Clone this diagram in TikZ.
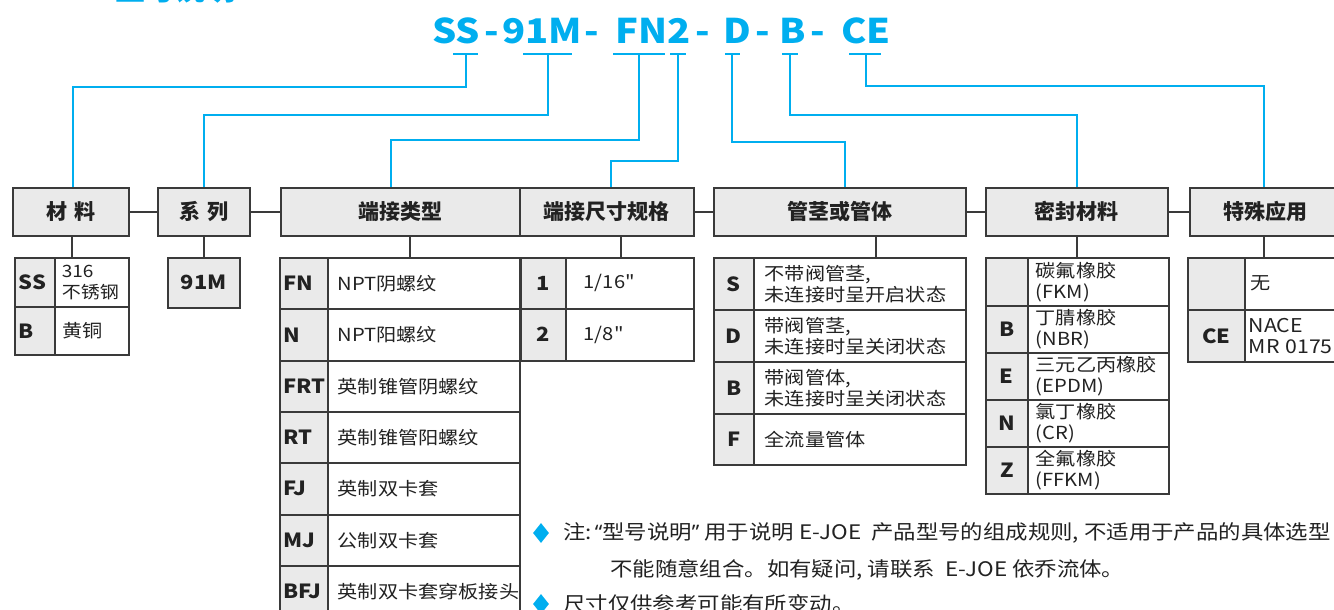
\documentclass[tikz,border=0pt]{standalone}
\usepackage{fontspec}
\usetikzlibrary{shapes.geometric}
\setmainfont{Noto Sans CJK SC}
\newfontfamily\cn[FakeStretch=1.12]{Noto Sans CJK SC}
\newfontfamily\lat[FakeStretch=1.05]{Noto Sans}
\definecolor{ej}{HTML}{00AEEF}
\definecolor{lc}{HTML}{3A3A3A}
\definecolor{hg}{HTML}{EAEAEA}
\definecolor{tcol}{HTML}{222222}
\newcommand\myhfont{\fontsize{21}{21}\selectfont\bfseries}
\newcommand\mycfont{\cn\fontsize{19.5}{20}\selectfont\bfseries}
\newcommand\mytfont{\cn\fontsize{18}{21}\selectfont}
\newcommand\hd[4]{\pgfmathsetmacro\myw{#3-#2}\node[hdr, minimum width=\myw pt] (#1) at (#2,187) {#4};}
\newcommand\ccell[7]{\pgfmathsetmacro\myh{#5-#3}\pgfmathsetmacro\mytw{#4-#2-8}%
  \node[code, anchor=north west, inner xsep=4pt, text width=\mytw pt, align=#6, minimum height=\myh pt] (#1) at (#2,#3) {#7};}
\newcommand\tcell[7]{\pgfmathsetmacro\myh{#5-#3}\pgfmathsetmacro\mytw{#4-#2-2*#6}%
  \node[txt, anchor=north west, inner xsep=#6 pt, text width=\mytw pt, minimum height=\myh pt] (#1) at (#2,#3) {#7};}
\begin{document}
\begin{tikzpicture}[x=1pt,y=-1pt,
  cy/.style={draw=ej, line width=2pt},
  gl/.style={draw=lc, line width=1.5pt},
  hdr/.style={draw=lc, line width=1.5pt, fill=hg, font=\myhfont, text=tcol, inner sep=0pt, minimum height=48pt, anchor=north west},
  code/.style={draw=lc, line width=1.5pt, fill=hg, font=\mycfont, text=tcol, inner ysep=0pt},
  txt/.style={draw=lc, line width=1.5pt, fill=white, font=\mytfont, text=tcol, inner ysep=0pt, align=left},
  ttl/.style={font=\cn\fontsize{34}{34}\selectfont\bfseries, text=ej, anchor=base, inner sep=0pt},
  note/.style={font=\cn\fontsize{20}{20}\selectfont, text=tcol, anchor=west, inner sep=0pt},
  dia/.style={diamond, fill=ej, inner sep=0pt, minimum width=16pt, minimum height=20pt}]
\path[use as bounding box] (0,0) rectangle (1334,610);
\clip (0,0) rectangle (1334,610);

% partial heading at top
\node[font=\cn\fontsize{27}{27}\selectfont\bfseries, text=ej, anchor=base west, inner sep=0pt] (top) at (115,1) {型号说明};

% title
\node[ttl] (tSS) at (456,44) {SS};
\node[ttl] (d1) at (492,44) {-};
\node[ttl] (t91) at (542,44) {91M};
\node[ttl] (d2) at (592,44) {-};
\node[ttl] (tFN) at (653,44) {FN2};
\node[ttl] (d3) at (703,44) {-};
\node[ttl] (tD) at (737,44) {D};
\node[ttl] (d4) at (763,44) {-};
\node[ttl] (tB) at (793,44) {B};
\node[ttl] (d5) at (818,44) {-};
\node[ttl] (tCE) at (866,44) {CE};

% bars
\coordinate (b1l) at (453,54); \coordinate (b1r) at (478,54); \coordinate (s1) at (466,54);
\coordinate (b2l) at (523,54); \coordinate (b2r) at (572,54); \coordinate (s2) at (548,54);
\coordinate (b3l) at (613,54); \coordinate (b3r) at (665,54); \coordinate (s3) at (639,54);
\coordinate (b4l) at (670,54); \coordinate (b4r) at (686,54); \coordinate (s4) at (678,54);
\coordinate (b5l) at (725,54); \coordinate (b5r) at (740,54); \coordinate (s5) at (732,54);
\coordinate (b6l) at (782,54); \coordinate (b6r) at (798,54); \coordinate (s6) at (790,54);
\coordinate (b7l) at (849,54); \coordinate (b7r) at (881,54); \coordinate (s7) at (866,54);
\foreach \i in {1,...,7} {\draw[cy] (b\i l) -- (b\i r);}

% headers
\hd{h1}{12}{128}{材\hspace{7pt}料}
\hd{h2}{157}{249}{系\hspace{7pt}列}
\hd{h3}{280}{519}{端接类型}
\hd{h4}{519}{693}{端接尺寸规格}
\hd{h5}{713}{965}{管茎或管体}
\hd{h6}{985}{1167}{密封材料}
\hd{h7}{1189}{1350}{\hspace{-9pt}特殊应用}

\draw[gl] (h1.east) -- (h2.west);
\draw[gl] (h2.east) -- (h3.west);
\draw[gl] (h4.east) -- (h5.west);
\draw[gl] (h5.east) -- (h6.west);
\draw[gl] (h6.east) -- (h7.west);

% cyan connectors
\draw[cy] (s1) -- ++(0,33) -| ([xshift=2pt]h1.north);
\draw[cy] (s2) -- ++(0,61) -| (h2.north);
\draw[cy] (s3) -- ++(0,86) -| ([xshift=-9.5pt]h3.north);
\draw[cy] (s4) -- ++(0,107) -| ([xshift=4pt]h4.north);
\draw[cy] (s5) -- ++(0,88) -| ([xshift=5pt]h5.north);
\draw[cy] (s6) -- ++(0,61) -| (h6.north);
\draw[cy] (s7) -- ++(0,32) -| ([xshift=-6.5pt]h7.north);

% table 1
\ccell{c1a}{14}{257}{54}{306}{left}{SS}
\tcell{x1a}{54}{257}{128}{306}{7}{\fontsize{17}{17}\selectfont 316\\不锈钢}
\ccell{c1b}{14}{306}{54}{354}{left}{B}
\tcell{x1b}{54}{306}{128}{354}{8}{黄铜}
\draw[gl] ([xshift=1pt]h1.south) -- ([xshift=1pt]h1.south |- c1a.north);

% table 2
\ccell{c2a}{167}{257}{239}{307}{center}{91M}
\draw[gl] (h2.south) -- (h2.south |- c2a.north);

% table 3
\ccell{c3a}{279}{257}{327}{308}{left}{FN}
\tcell{x3a}{327}{257}{519}{308}{10}{NPT阴螺纹}
\ccell{c3b}{279}{308}{327}{360}{left}{N}
\tcell{x3b}{327}{308}{519}{360}{10}{NPT阳螺纹}
\ccell{c3c}{279}{360}{327}{411}{left}{FRT}
\tcell{x3c}{327}{360}{519}{411}{10}{英制锥管阴螺纹}
\ccell{c3d}{279}{411}{327}{462}{left}{RT}
\tcell{x3d}{327}{411}{519}{462}{10}{英制锥管阳螺纹}
\ccell{c3e}{279}{462}{327}{514}{left}{FJ}
\tcell{x3e}{327}{462}{519}{514}{10}{英制双卡套}
\ccell{c3f}{279}{514}{327}{565}{left}{MJ}
\tcell{x3f}{327}{514}{519}{565}{10}{公制双卡套}
\ccell{c3g}{279}{565}{327}{616}{left}{BFJ}
\tcell{x3g}{327}{565}{519}{616}{10}{英制双卡套穿板接头}
\draw[gl] ([xshift=9.5pt]h3.south) -- ([xshift=9.5pt]h3.south |- c3a.north);

% table 4
\ccell{c4a}{520}{257}{565}{308}{center}{1}
\tcell{x4a}{565}{257}{693}{308}{18}{1/16"}
\ccell{c4b}{520}{308}{565}{360}{center}{2}
\tcell{x4b}{565}{308}{693}{360}{18}{1/8"}
\draw[gl] ([xshift=14pt]h4.south) -- ([xshift=14pt]h4.south |- c4a.north);

% table 5
\ccell{c5a}{713}{257}{753}{309}{center}{S}
\tcell{x5a}{753}{257}{965}{309}{11}{\fontsize{18}{23}\selectfont 不带阀管茎,\\未连接时呈开启状态}
\ccell{c5b}{713}{309}{753}{361}{center}{D}
\tcell{x5b}{753}{309}{965}{361}{11}{\fontsize{18}{23}\selectfont 带阀管茎,\\未连接时呈关闭状态}
\ccell{c5c}{713}{361}{753}{413}{center}{B}
\tcell{x5c}{753}{361}{965}{413}{11}{\fontsize{18}{23}\selectfont 带阀管体,\\未连接时呈关闭状态}
\ccell{c5d}{713}{413}{753}{464}{center}{F}
\tcell{x5d}{753}{413}{965}{464}{11}{全流量管体}
\draw[gl] ([xshift=36pt]h5.south) -- ([xshift=36pt]h5.south |- c5a.north);

% table 6
\ccell{c6a}{985}{257}{1027}{305}{center}{}
\tcell{x6a}{1027}{257}{1168}{305}{8}{碳氟橡胶\\(FKM)}
\ccell{c6b}{985}{305}{1027}{352}{center}{B}
\tcell{x6b}{1027}{305}{1168}{352}{8}{丁腈橡胶\\(NBR)}
\ccell{c6c}{985}{352}{1027}{399}{center}{E}
\tcell{x6c}{1027}{352}{1168}{399}{8}{三元乙丙橡胶\\(EPDM)}
\ccell{c6d}{985}{399}{1027}{446}{center}{N}
\tcell{x6d}{1027}{399}{1168}{446}{8}{氯丁橡胶\\(CR)}
\ccell{c6e}{985}{446}{1027}{493}{center}{Z}
\tcell{x6e}{1027}{446}{1168}{493}{8}{全氟橡胶\\(FFKM)}
\draw[gl] (h6.south) -- (h6.south |- c6a.north);

% table 7
\ccell{c7a}{1187}{257}{1244}{309}{center}{}
\tcell{x7a}{1244}{257}{1350}{309}{6}{无}
\ccell{c7b}{1187}{309}{1244}{361}{center}{CE}
\tcell{x7b}{1244}{309}{1350}{361}{4}{\fontsize{19}{20}\selectfont NACE\\MR 0175}
\draw[gl] ([xshift=-6.5pt]h7.south) -- ([xshift=-6.5pt]h7.south |- c7a.north);

% notes
\node[dia] (dm1) at (541,533) {};
\node[note] (n1) at (563,533) {注:\hspace{3pt}{\lat “}型号说明{\lat ”}\hspace{5pt}用于说明 E-JOE\hspace{10pt}产品型号的组成规则, 不适用于产品的具体选型};
\node[note] (n2) at (610,570) {不能随意组合。如有疑问, 请联系\hspace{10pt}E-JOE 依乔流体。};
\node[dia] (dm2) at (541,604) {};
\node[note] (n3) at (563,604) {尺寸仅供参考可能有所变动。};
\end{tikzpicture}
\end{document}
